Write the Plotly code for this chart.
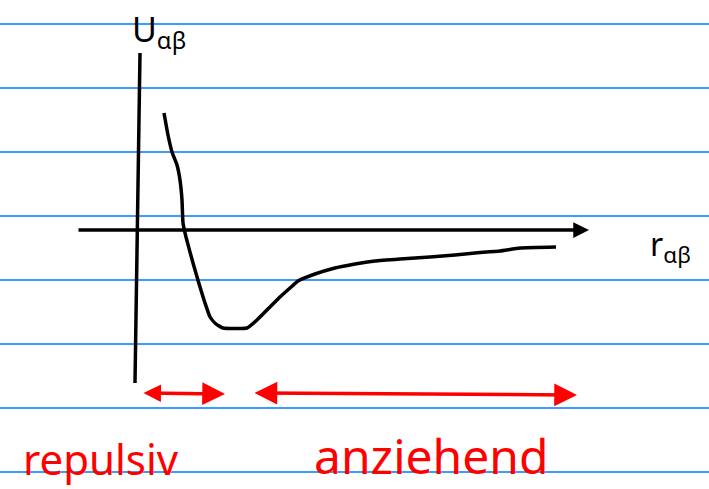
import plotly.graph_objects as go

# Data units: r (horizontal), U (vertical); origin where the axes cross
r_curve = [0.27, 0.31, 0.35, 0.40, 0.43, 0.45, 0.46, 0.49, 0.56, 0.63, 0.68, 0.73, 0.79, 0.86,
           1.10, 1.20, 1.33, 1.43, 1.53, 1.61, 1.78, 1.98, 2.18, 2.38, 2.63, 2.93, 3.18, 3.38,
           3.63, 3.83, 4.19]
U_curve = [1.17, 0.95, 0.78, 0.65, 0.50, 0.30, 0.07, -0.07, -0.33, -0.57, -0.73, -0.87, -0.94, -0.98,
           -0.98, -0.90, -0.77, -0.67, -0.58, -0.51, -0.44, -0.38, -0.34, -0.31, -0.29, -0.27, -0.25,
           -0.23, -0.21, -0.18, -0.17]

# axes of the sketch
v_axis_r = [0.03, -0.02]
v_axis_U = [1.77, -1.53]
h_axis_r = [-0.60, 4.52]
h_axis_U = [0.0, 0.0]

# red range arrows
rep_r = [0.05, 0.88]
rep_U = [-1.63, -1.64]
att_r = [1.16, 4.40]
att_U = [-1.63, -1.65]

# ruled notebook lines
ruled_U = [2.06, 1.42, 0.78, 0.14, -0.50, -1.14, -1.78, -2.42]

labels = {"U": "U<sub>αβ</sub>", "r": "r<sub>αβ</sub>", "rep": "repulsiv", "att": "anziehend"}

fig = go.Figure()

for u in ruled_U:
    fig.add_shape(type="line", xref="paper", x0=0, x1=1, yref="y", y0=u, y1=u,
                  line=dict(color="#3d9cff", width=2), layer="below")

fig.add_trace(go.Scatter(x=v_axis_r, y=v_axis_U, mode="lines",
                         line=dict(color="black", width=3.5), hoverinfo="skip"))
fig.add_trace(go.Scatter(x=r_curve, y=U_curve, mode="lines",
                         line=dict(color="black", width=3.5, shape="spline", smoothing=0.4),
                         hoverinfo="skip"))

# horizontal axis with arrow
fig.add_annotation(x=h_axis_r[1], y=h_axis_U[1], ax=h_axis_r[0], ay=h_axis_U[0],
                   xref="x", yref="y", axref="x", ayref="y", text="", showarrow=True,
                   arrowhead=2, arrowsize=0.9, arrowwidth=3.5, arrowcolor="black")

# red arrows
fig.add_annotation(x=rep_r[1], y=rep_U[1], ax=rep_r[0], ay=rep_U[0],
                   xref="x", yref="y", axref="x", ayref="y", text="", showarrow=True,
                   arrowhead=2, startarrowhead=2, arrowside="end+start",
                   arrowsize=1.3, startarrowsize=1.0, arrowwidth=3.5, arrowcolor="#ff0000")
fig.add_annotation(x=att_r[1], y=att_U[1], ax=att_r[0], ay=att_U[0],
                   xref="x", yref="y", axref="x", ayref="y", text="", showarrow=True,
                   arrowhead=2, startarrowhead=2, arrowside="end+start",
                   arrowsize=1.3, startarrowsize=1.3, arrowwidth=3.5, arrowcolor="#ff0000")

fig.add_annotation(x=0.22, y=1.99, text=labels["U"], showarrow=False,
                   font=dict(family="Noto Sans", size=34, color="black"))
fig.add_annotation(x=5.33, y=-0.16, text=labels["r"], showarrow=False,
                   font=dict(family="Noto Sans", size=32, color="black"))
fig.add_annotation(x=-0.36, y=-2.28, text=labels["rep"], showarrow=False,
                   font=dict(family="Noto Sans", size=42, color="#ff0000"))
fig.add_annotation(x=2.94, y=-2.25, text=labels["att"], showarrow=False,
                   font=dict(family="Noto Sans", size=48, color="#ff0000"))

fig.update_layout(
    width=709, height=489,
    margin=dict(l=0, r=0, t=0, b=0),
    paper_bgcolor="white", plot_bgcolor="white",
    showlegend=False,
    xaxis=dict(range=[-1.37, 5.72], visible=False, fixedrange=True),
    yaxis=dict(range=[-2.59, 2.30], visible=False, fixedrange=True),
)

fig.write_html("out.html", config={"displayModeBar": False},
               post_script="document.body.style.margin='0';document.body.style.overflow='hidden';")
